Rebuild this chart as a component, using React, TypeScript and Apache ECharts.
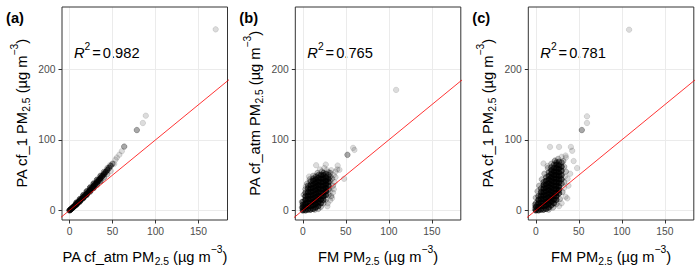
import React, { useEffect, useRef } from "react";
import * as echarts from "echarts";

type Obs = [number, number, number]; // [x, y, number of overlapping observations]

const panelLabels = ["(a)", "(b)", "(c)"];
const rSquaredValues = ["0.982", "0.765", "0.781"];
const xTitleMain = ["PA cf_atm PM", "FM PM", "FM PM"];
const yTitleMain = ["PA cf_1 PM", "PA cf_atm PM", "PA cf_1 PM"];
const pmSubscript = "2.5";
const unitMain = " (µg m";
const unitSuperscript = "−3";
const xAxisLimits = [-8.75, 183.75];
const yAxisLimits = [-13.75, 288.75];
const xTickLabels = [0, 50, 100, 150];
const yTickLabels = [0, 100, 200];
const xGridStep = 25;
const yGridStep = 50;
const oneToOneLine = [
  [-20, -20],
  [300, 300],
];

// (a) PA cf_1 vs PA cf_atm
const panelAPoints: Obs[] = [
  [0, 0, 20], [1, 0.8, 16], [2, 2, 20], [3, 3.1, 16], [4, 4.2, 20], [5, 5.3, 16], [6, 6.4, 20], [7, 7.6, 16],
  [8, 8.8, 20], [9, 10, 16], [10, 11.2, 20], [12, 13.6, 20], [14, 16, 20], [16, 18.5, 20], [18, 21, 20],
  [20, 23.5, 20], [22, 26, 20], [24, 29, 20], [26, 31.6, 20], [28, 34.4, 20], [30, 37.2, 20], [32, 40, 18],
  [34, 42.8, 16], [36, 45.6, 15], [38, 48.4, 13], [40, 51.3, 11], [42, 54.2, 9], [44, 57.2, 7], [46, 60.2, 5],
  [48, 63.2, 4], [50, 66.2, 3],
  [8, 11, 8], [12, 16, 8], [16, 21.5, 8], [20, 27, 8], [24, 32.5, 8], [28, 38, 8], [32, 43.5, 6],
  [36, 49, 5], [40, 54.5, 3], [44, 60, 2], [47, 64, 1],
  [8, 8.2, 8], [12, 12.4, 8], [16, 17.3, 8], [20, 22, 8], [24, 26.8, 8], [28, 31.8, 8], [32, 36.5, 6],
  [36, 41.5, 5], [40, 46.5, 3], [44, 51.5, 2], [48, 56, 1],
  [53.5, 72, 1], [52, 66, 1], [55, 75, 1], [58, 79, 1], [60.8, 84, 1], [63.6, 90.5, 3], [78.3, 114, 3],
  [85.3, 124, 1], [88.7, 134.4, 1], [170, 257, 1],
];

// (b) PA cf_atm vs FM
const panelBPoints: Obs[] = [
  [0, 0, 15], [0, 4, 15], [0, 8, 8], [0, 12, 4],
  [3, 0, 10], [3, 5, 15], [3, 10, 15], [3, 15, 15], [3, 20, 8], [3, 25, 4],
  [6, 1, 10], [6, 6, 15], [6, 11, 15], [6, 16, 15], [6, 21, 15], [6, 26, 15], [6, 31, 8], [6, 35, 4],
  [9, 1, 8], [9, 6, 15], [9, 11, 15], [9, 16, 15], [9, 21, 15], [9, 26, 15], [9, 31, 15], [9, 36, 10], [9, 41, 4],
  [12, 2, 8], [12, 7, 15], [12, 12, 15], [12, 17, 15], [12, 22, 15], [12, 27, 15], [12, 32, 15], [12, 37, 15], [12, 42, 10], [12, 45, 4],
  [15, 4, 8], [15, 9, 15], [15, 14, 15], [15, 19, 15], [15, 24, 15], [15, 29, 15], [15, 34, 15], [15, 39, 15], [15, 44, 10], [15, 48, 4],
  [18, 6, 8], [18, 11, 15], [18, 16, 15], [18, 21, 15], [18, 26, 15], [18, 31, 15], [18, 36, 15], [18, 41, 15], [18, 46, 10], [18, 50, 4],
  [21, 10, 8], [21, 15, 15], [21, 20, 15], [21, 25, 15], [21, 30, 15], [21, 35, 15], [21, 40, 15], [21, 45, 15], [21, 50, 8],
  [24, 15, 8], [24, 20, 15], [24, 25, 15], [24, 30, 15], [24, 35, 15], [24, 40, 15], [24, 45, 15], [24, 50, 10], [24, 53, 4],
  [27, 22, 8], [27, 27, 15], [27, 32, 15], [27, 37, 15], [27, 42, 15], [27, 47, 10], [27, 52, 4],
  [30, 30, 4], [30, 35, 8], [30, 40, 8], [30, 45, 8], [30, 50, 4], [30, 54, 2],
  [32, 42, 2], [32, 48, 2], [32, 53, 2],
  [33, 20, 2], [35, 25, 1], [36, 30, 1], [35, 35, 2], [37, 40, 1], [34, 45, 2], [36, 50, 1], [38, 55, 1],
  [30, 22, 2], [27, 15, 2], [24, 10, 2], [21, 5, 2], [18, 2, 2], [14, 1, 2], [33, 57, 1], [28, 57, 1],
  [22, 55, 2], [17, 53, 2], [12, 49, 2], [8, 44, 2], [5, 38, 2], [3, 30, 2], [1, 22, 2], [-1, 12, 2],
  [-1, 4, 2], [29, 10, 1], [32, 28, 1], [38, 47, 1], [40, 58, 1], [25, 60, 1], [20, 58, 1],
  [15.5, 64, 1], [26.7, 65, 1], [40.5, 63.6, 1], [42.6, 57.6, 1], [48, 44.8, 1], [34, 17.4, 1], [31.7, 14, 1],
  [28.6, 5.7, 1], [7.3, 48, 1], [3.5, 34, 1], [51.9, 78.8, 3], [58.5, 88.7, 1], [60, 85.8, 1], [108.5, 171, 1],
];

// (c) PA cf_1 vs FM
const panelCPoints: Obs[] = [
  [0, 0, 15], [0, 5, 15], [0, 10, 4],
  [3, 0, 10], [3, 5, 15], [3, 10, 15], [3, 15, 10], [3, 20, 4],
  [6, 1, 10], [6, 6, 15], [6, 11, 15], [6, 16, 15], [6, 21, 15], [6, 26, 10], [6, 31, 4],
  [9, 1, 8], [9, 6, 15], [9, 11, 15], [9, 16, 15], [9, 21, 15], [9, 26, 15], [9, 31, 15], [9, 36, 10], [9, 40, 4],
  [12, 2, 8], [12, 7, 15], [12, 12, 15], [12, 17, 15], [12, 22, 15], [12, 27, 15], [12, 32, 15], [12, 37, 15], [12, 42, 10], [12, 47, 4],
  [15, 4, 8], [15, 9, 15], [15, 14, 15], [15, 19, 15], [15, 24, 15], [15, 29, 15], [15, 34, 15], [15, 39, 15], [15, 44, 15], [15, 49, 10], [15, 54, 4],
  [18, 7, 8], [18, 12, 15], [18, 17, 15], [18, 22, 15], [18, 27, 15], [18, 32, 15], [18, 37, 15], [18, 42, 15], [18, 47, 15], [18, 52, 15], [18, 57, 10], [18, 61, 4],
  [21, 10, 8], [21, 15, 15], [21, 20, 15], [21, 25, 15], [21, 30, 15], [21, 35, 15], [21, 40, 15], [21, 45, 15], [21, 50, 15], [21, 55, 15], [21, 60, 10], [21, 65, 4],
  [24, 15, 8], [24, 20, 15], [24, 25, 15], [24, 30, 15], [24, 35, 15], [24, 40, 15], [24, 45, 15], [24, 50, 15], [24, 55, 15], [24, 60, 15], [24, 65, 10], [24, 68, 4],
  [27, 24, 8], [27, 29, 15], [27, 34, 15], [27, 39, 15], [27, 44, 15], [27, 49, 15], [27, 54, 15], [27, 59, 15], [27, 64, 10], [27, 69, 4],
  [30, 38, 4], [30, 44, 8], [30, 50, 8], [30, 56, 8], [30, 62, 8], [30, 68, 4],
  [33, 40, 2], [34, 48, 1], [35, 55, 2], [33, 62, 2], [32, 70, 2], [35, 75, 1], [30, 76, 1], [26, 73, 2],
  [22, 70, 2], [18, 66, 2], [14, 60, 2], [10, 52, 2], [7, 44, 2], [4, 35, 2], [2, 27, 2], [0, 18, 2],
  [-1, 8, 2], [-1, 2, 2], [15, 1, 2], [20, 4, 2], [24, 9, 2], [28, 16, 2], [31, 26, 2], [33, 32, 1],
  [27, 6, 1], [34.6, 19.3, 1], [36.6, 17, 1], [30, 10, 1], [37, 45, 1], [38, 35, 1], [40, 52, 1],
  [16.5, 90, 1], [27, 90, 1], [40.8, 90, 1], [42.3, 84.6, 1], [34.6, 77.8, 1], [44, 70, 1], [48, 60, 1],
  [8.9, 66.5, 1], [13.5, 63, 1], [22.3, 71, 1], [53.5, 114, 3], [59.5, 124, 1], [59.5, 133.5, 1], [108.5, 256.5, 1],
];

const panelPoints = [panelAPoints, panelBPoints, panelCPoints];

// ---- layout / style (not data) ----
const FONT = '"Liberation Sans", Arial, Helvetica, sans-serif';
const PANEL_LEFT = [62, 295.3, 528.3];
const PANEL_WIDTH = 165.5;
const PANEL_TOP = 7;
const PANEL_HEIGHT = 213;
const BASE_ALPHA = 0.17;

const titleRich = {
  m: { fontSize: 14.67, fontFamily: FONT, fill: "#000", lineHeight: 25, verticalAlign: "middle" },
  s: { fontSize: 10.3, fontFamily: FONT, fill: "#000", verticalAlign: "bottom", padding: [0, 0, 2.5, 0] },
  p: { fontSize: 10.3, fontFamily: FONT, fill: "#000", verticalAlign: "top" },
};
const r2Rich = {
  r: { fontSize: 14.67, fontFamily: FONT, fontStyle: "italic", fill: "#000", lineHeight: 23, verticalAlign: "middle" },
  p: { fontSize: 10.3, fontFamily: FONT, fill: "#000", verticalAlign: "top" },
  e: { fontSize: 14.67, fontFamily: FONT, fill: "#000", verticalAlign: "middle", padding: [0, 2, 0, 2] },
  n: { fontSize: 14.67, fontFamily: FONT, fill: "#000", verticalAlign: "middle" },
};

function buildOption() {
  const grids = PANEL_LEFT.map((left) => ({
    left,
    top: PANEL_TOP,
    width: PANEL_WIDTH,
    height: PANEL_HEIGHT,
    show: true,
    borderColor: "#333333",
    borderWidth: 1,
    backgroundColor: "transparent",
    z: 1,
    containLabel: false,
    outerBoundsMode: "none",
  }));

  const xAxes = PANEL_LEFT.map((_, i) => ({
    type: "value",
    gridIndex: i,
    min: xAxisLimits[0],
    max: xAxisLimits[1],
    minInterval: xGridStep,
    maxInterval: xGridStep,
    axisLine: { show: false, onZero: false },
    axisTick: { show: true, customValues: xTickLabels, length: 3.5, lineStyle: { color: "#333333", width: 1 } },
    axisLabel: { customValues: xTickLabels, color: "#4D4D4D", fontSize: 10.3, fontFamily: FONT, margin: 6.5 },
    splitLine: { show: true, lineStyle: { color: "#EBEBEB", width: 1 } },
  }));

  const yAxes = PANEL_LEFT.map((_, i) => ({
    type: "value",
    gridIndex: i,
    min: yAxisLimits[0],
    max: yAxisLimits[1],
    minInterval: yGridStep,
    maxInterval: yGridStep,
    axisLine: { show: false, onZero: false },
    axisTick: { show: true, customValues: yTickLabels, length: 3.5, lineStyle: { color: "#333333", width: 1 } },
    axisLabel: { customValues: yTickLabels, color: "#4D4D4D", fontSize: 10.3, fontFamily: FONT, margin: 6.5 },
    splitLine: { show: true, lineStyle: { color: "#EBEBEB", width: 1 } },
  }));

  const series: any[] = [];
  panelPoints.forEach((pts, i) => {
    series.push({
      type: "scatter",
      xAxisIndex: i,
      yAxisIndex: i,
      symbol: "circle",
      symbolSize: 5.5,
      clip: true,
      silent: true,
      z: 2,
      data: pts.map(([x, y, n]) => {
        const a = (1 - Math.pow(1 - BASE_ALPHA, n)).toFixed(3);
        return {
          value: [x, y],
          itemStyle: { color: `rgba(0,0,0,${a})`, borderColor: `rgba(0,0,0,${a})`, borderWidth: 0.8 },
        };
      }),
    });
  });
  PANEL_LEFT.forEach((_, i) => {
    series.push({
      type: "line",
      xAxisIndex: i,
      yAxisIndex: i,
      data: oneToOneLine,
      symbol: "none",
      showSymbol: false,
      clip: true,
      silent: true,
      z: 3,
      lineStyle: { color: "#FF0000", width: 0.8 },
    });
  });

  const graphics: any[] = [];
  PANEL_LEFT.forEach((left, i) => {
    graphics.push({
      type: "text",
      x: left - 56,
      y: 18,
      silent: true,
      style: {
        text: panelLabels[i],
        fontSize: 14.67,
        fontWeight: "bold",
        fontFamily: FONT,
        fill: "#000",
        align: "left",
        verticalAlign: "middle",
      },
    });
    graphics.push({
      type: "text",
      x: left + 12,
      y: 53.2,
      silent: true,
      style: {
        text: `{r|R}{p|2}{e|=}{n|${rSquaredValues[i]}}`,
        rich: r2Rich,
        align: "left",
        verticalAlign: "middle",
      },
    });
    graphics.push({
      type: "text",
      x: left + PANEL_WIDTH / 2,
      y: 256.6,
      silent: true,
      style: {
        text: `{m|${xTitleMain[i]}}{s|${pmSubscript}}{m|${unitMain}}{p|${unitSuperscript}}{m|)}`,
        rich: titleRich,
        align: "center",
        verticalAlign: "middle",
      },
    });
    graphics.push({
      type: "text",
      x: left - 40.5,
      y: PANEL_TOP + PANEL_HEIGHT / 2,
      rotation: Math.PI / 2,
      silent: true,
      style: {
        text: `{m|${yTitleMain[i]}}{s|${pmSubscript}}{m|${unitMain}}{p|${unitSuperscript}}{m|)}`,
        rich: titleRich,
        align: "center",
        verticalAlign: "middle",
      },
    });
  });

  return {
    animation: false,
    backgroundColor: "#FFFFFF",
    grid: grids,
    xAxis: xAxes,
    yAxis: yAxes,
    series,
    graphic: graphics,
  };
}

export default function App() {
  const ref = useRef<HTMLDivElement>(null);
  useEffect(() => {
    if (!ref.current) return;
    const chart = echarts.init(ref.current, null, { renderer: "svg", width: 700, height: 270 });
    chart.setOption(buildOption() as any);
    return () => chart.dispose();
  }, []);
  return (
    <div
      ref={ref}
      style={{ position: "fixed", left: 0, top: 0, width: 700, height: 270, background: "#fff" }}
    />
  );
}
